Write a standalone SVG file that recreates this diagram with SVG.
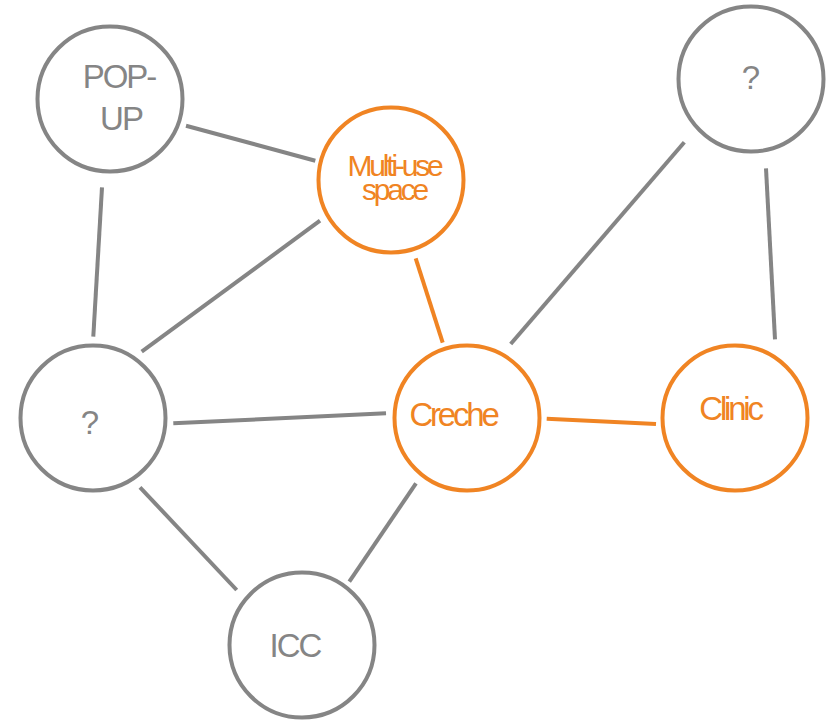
<svg xmlns="http://www.w3.org/2000/svg" width="826" height="721" viewBox="0 0 826 721">
<style>
.g{fill:#fff;stroke:#858585;stroke-width:4}
.o{fill:#fff;stroke:#f08423;stroke-width:4}
.lg{stroke:#858585;stroke-width:4;fill:none}
.lo{stroke:#f08423;stroke-width:4;fill:none}
text{font-family:"Liberation Sans",Arial,sans-serif;text-anchor:middle}
.tg{fill:#858585;font-size:33px;letter-spacing:-2px}
.to{fill:#f08423;font-size:33px;letter-spacing:-3.2px}
.tm{fill:#f08423;font-size:30px;letter-spacing:-3.2px}
</style>
<rect width="826" height="721" fill="#fff"/>
<g id="connectors">
<line class="lg" x1="186" y1="125.7" x2="315.3" y2="160.7"/>
<line class="lg" x1="102" y1="187.3" x2="93.3" y2="336.7"/>
<line class="lg" x1="320" y1="220.7" x2="141.7" y2="351.7"/>
<line class="lo" x1="415.7" y1="258.3" x2="442.7" y2="342.7"/>
<line class="lg" x1="173.3" y1="423.3" x2="386" y2="413.3"/>
<line class="lg" x1="684.3" y1="142.3" x2="510.7" y2="344"/>
<line class="lg" x1="766" y1="168.3" x2="775" y2="339.3"/>
<line class="lo" x1="546.7" y1="418.7" x2="656" y2="424"/>
<line class="lg" x1="140" y1="487.3" x2="236.7" y2="590"/>
<line class="lg" x1="416" y1="483.3" x2="349.3" y2="581.7"/>
</g>
<g id="popup">
<circle class="g" cx="110" cy="99" r="72.5"/>
<text class="tg" x="119" y="88">POP-</text>
<text class="tg" x="121" y="130">UP</text>
</g>
<g id="multiuse">
<circle class="o" cx="391" cy="180" r="72.5"/>
<text class="tm" x="394" y="176">Multi-use</text>
<text class="tm" x="394" y="200">space</text>
</g>
<g id="q-top">
<circle class="g" cx="751" cy="79" r="72.5"/>
<text class="tg" x="750" y="89">?</text>
</g>
<g id="q-left">
<circle class="g" cx="93" cy="418" r="72.5"/>
<text class="tg" x="89" y="434">?</text>
</g>
<g id="creche">
<circle class="o" cx="467" cy="418" r="72.5"/>
<text class="to" x="453" y="426">Creche</text>
</g>
<g id="clinic">
<circle class="o" cx="735" cy="418" r="72.5"/>
<text class="to" x="730" y="420">Clinic</text>
</g>
<g id="icc">
<circle class="g" cx="302" cy="645" r="72.5"/>
<text class="tg" x="295" y="657">ICC</text>
</g>
</svg>
